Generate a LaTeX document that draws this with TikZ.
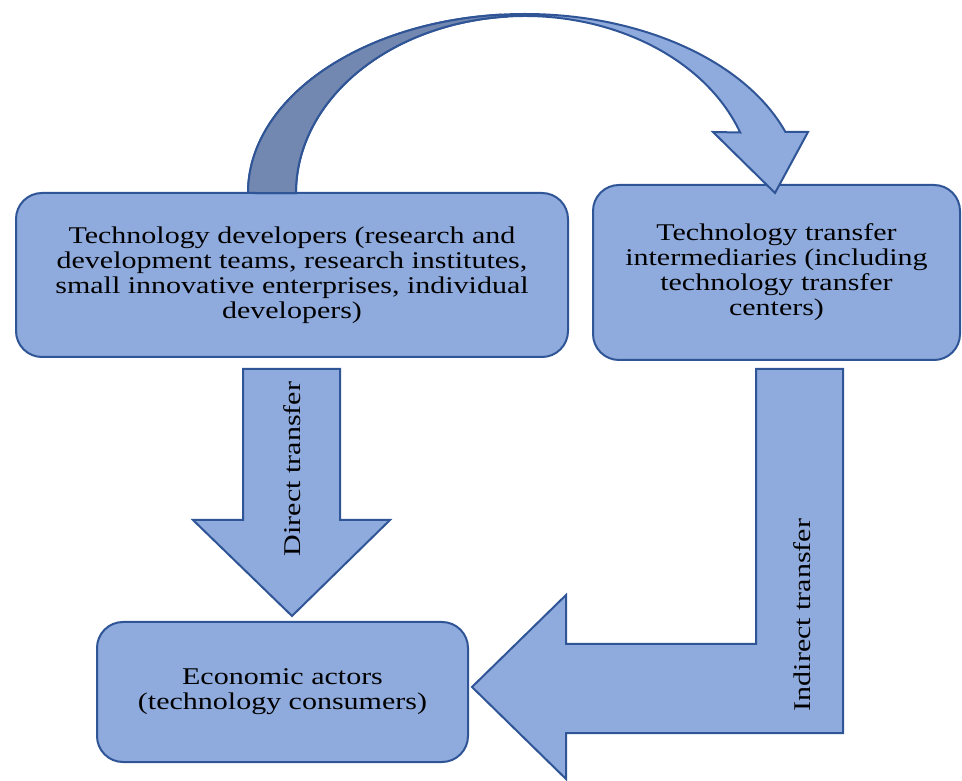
\documentclass[tikz,border=0pt]{standalone}
\usepackage{fontspec}
\setmainfont{Liberation Serif}[FakeStretch=1.25]

\definecolor{boxfill}{HTML}{8FAADC}
\definecolor{boxline}{HTML}{2F5597}
\definecolor{backface}{HTML}{7288B0}

\begin{document}
\begin{tikzpicture}[x=1pt, y=1pt, line width=2pt]

    \tikzset{block/.style={%
      draw=boxline,%
      fill=boxfill,%
      rectangle,%
      rounded corners=26pt,%
      align=center,%
      inner sep=0pt,%
      font=\fontsize{24}{25}\selectfont}%
    };

    \tikzset{flow/.style={draw=boxline, fill=boxfill, line join=miter}};
    \tikzset{flowlabel/.style={rotate=90, inner sep=0pt, font=\fontsize{24}{25}\selectfont}};

    \useasboundingbox (0, 0) rectangle (962, 780);

    %%%%%%%%%%%%%%%
    %   blocks    %
    %%%%%%%%%%%%%%%
    \path (292, 505) node [block, minimum width=552, minimum height=164] (dev)
      {Technology developers (research and\\development teams, research institutes,\\small innovative enterprises, individual\\developers)};
    \path (776.5, 507.5) node [block, minimum width=367, minimum height=175] (mid)
      {Technology transfer\\intermediaries (including\\technology transfer\\centers)};
    \path (282.5, 88) node [block, minimum width=371, minimum height=140] (eco)
      {Economic actors\\(technology consumers)};

    %%%%%%%%%%%%%%%
    %   arrows    %
    %%%%%%%%%%%%%%%
    \coordinate (ctail) at (248, 587);
    \coordinate (dtip) at (292, 164);
    \coordinate (itip) at (472, 93);

    % curved arrow, developers to intermediaries
    \draw [flow] (ctail) arc [start angle=180, end angle=20, x radius=277, y radius=179]
      -- (808, 648) -- (775, 587) -- (713, 648) -- (740.2, 647.5)
      arc [start angle=20, end angle=180, x radius=229, y radius=177] -- cycle;
    \draw [flow, fill=backface] (ctail) arc [start angle=180, end angle=95, x radius=277, y radius=179]
      -- (505.0, 763.3) arc [start angle=95, end angle=180, x radius=229, y radius=177] -- cycle;

    % direct transfer
    \draw [flow] (dtip) -- ++(-99, 96) -- ++(50, 0) -- ++(0, 151) -- ++(97, 0)
      -- ++(0, -151) -- ++(50, 0) -- cycle;
    \path (292, 311) node [flowlabel] (dlab) {Direct transfer};

    % indirect transfer
    \draw [flow] (itip) -- ++(94, 92) -- ++(0, -49) -- ++(190, 0) -- ++(0, 275)
      -- ++(87, 0) -- ++(0, -364) -- ++(-277, 0) -- ++(0, -46) -- cycle;
    \path (802, 165) node [flowlabel] (ilab) {Indirect transfer};

  \end{tikzpicture}
\end{document}
